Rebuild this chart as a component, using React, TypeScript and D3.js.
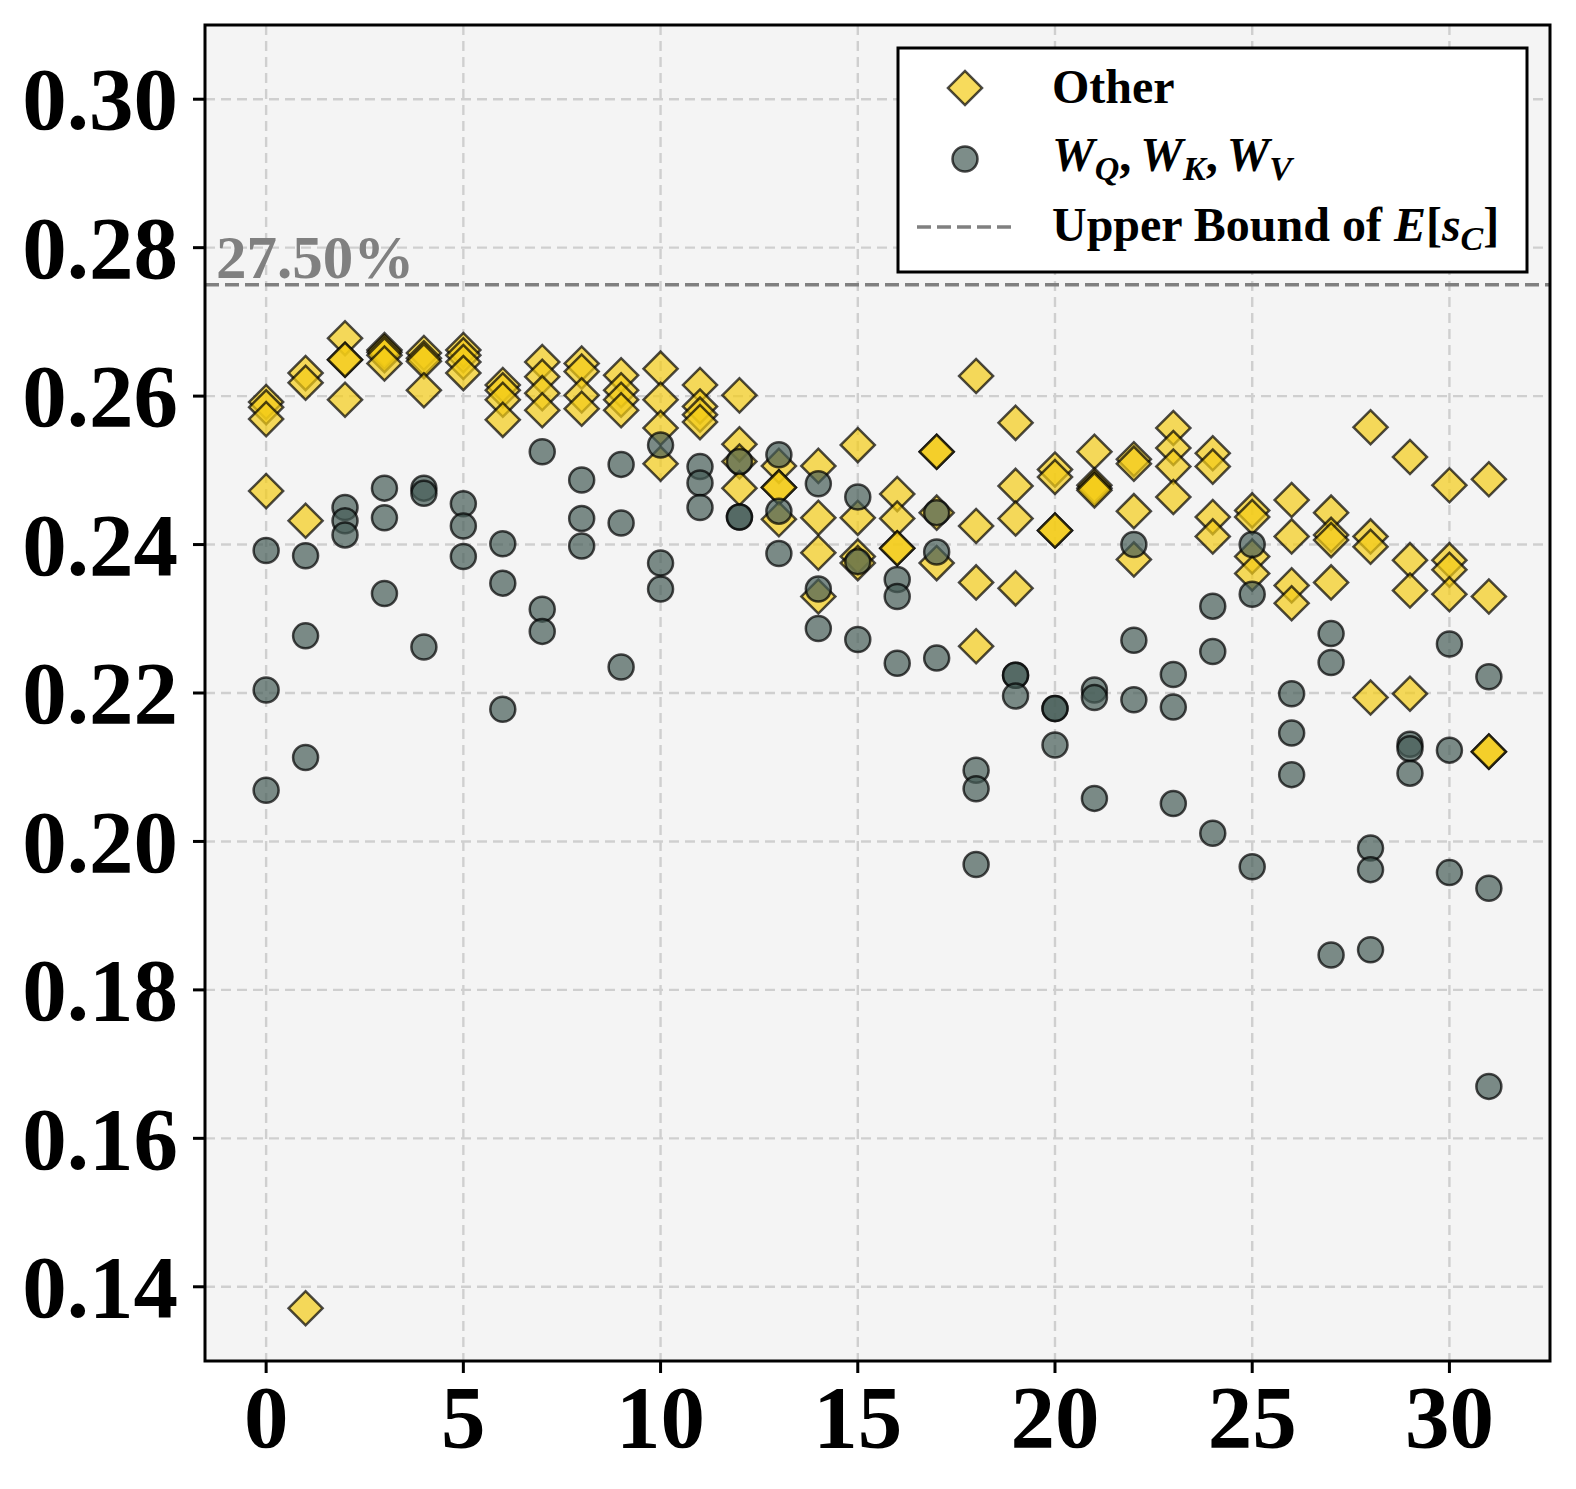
import React from 'react';
import * as d3 from 'd3';

// layer index on x
const layers = [0, 1, 2, 3, 4, 5, 6, 7, 8, 9, 10, 11, 12, 13, 14, 15, 16, 17, 18, 19, 20, 21, 22, 23, 24, 25, 26, 27, 28, 29, 30, 31];

// "Other" projections, four per layer
const otherValues = [
  [0.2592, 0.2585, 0.2569, 0.2472],
  [0.2631, 0.2618, 0.2432, 0.1371],
  [0.2678, 0.2649, 0.2649, 0.2595],
  [0.2662, 0.2659, 0.2655, 0.2644],
  [0.2658, 0.2651, 0.2647, 0.2608],
  [0.2662, 0.2655, 0.2646, 0.2631],
  [0.2615, 0.2608, 0.2595, 0.2568],
  [0.2646, 0.2626, 0.2604, 0.2581],
  [0.2644, 0.2633, 0.2601, 0.2583],
  [0.2628, 0.2608, 0.2595, 0.2581],
  [0.2637, 0.2595, 0.2557, 0.2509],
  [0.2615, 0.2586, 0.2575, 0.2565],
  [0.2601, 0.2535, 0.2512, 0.2476],
  [0.2506, 0.2477, 0.2477, 0.2434],
  [0.2506, 0.2436, 0.2389, 0.2330],
  [0.2534, 0.2436, 0.2384, 0.2375],
  [0.2468, 0.2435, 0.2395, 0.2395],
  [0.2525, 0.2525, 0.2443, 0.2375],
  [0.2627, 0.2425, 0.2349, 0.2263],
  [0.2564, 0.2479, 0.2435, 0.2341],
  [0.2501, 0.2491, 0.2419, 0.2419],
  [0.2525, 0.2480, 0.2476, 0.2473],
  [0.2515, 0.2509, 0.2445, 0.2380],
  [0.2557, 0.2530, 0.2505, 0.2464],
  [0.2523, 0.2505, 0.2437, 0.2411],
  [0.2446, 0.2437, 0.2384, 0.2361],
  [0.2460, 0.2411, 0.2345, 0.2321],
  [0.2443, 0.2413, 0.2406, 0.2349],
  [0.2558, 0.2411, 0.2397, 0.2194],
  [0.2518, 0.2379, 0.2338, 0.2199],
  [0.2480, 0.2379, 0.2366, 0.2333],
  [0.2488, 0.2330, 0.2121, 0.2121],
];

// W_Q, W_K, W_V, three per layer
const qkvValues = [
  [0.2392, 0.2204, 0.2069],
  [0.2385, 0.2277, 0.2113],
  [0.2450, 0.2432, 0.2413],
  [0.2476, 0.2436, 0.2334],
  [0.2476, 0.2469, 0.2262],
  [0.2455, 0.2425, 0.2384],
  [0.2401, 0.2348, 0.2178],
  [0.2525, 0.2313, 0.2283],
  [0.2487, 0.2435, 0.2398],
  [0.2508, 0.2429, 0.2235],
  [0.2534, 0.2375, 0.2340],
  [0.2505, 0.2483, 0.2450],
  [0.2512, 0.2437, 0.2437],
  [0.2521, 0.2445, 0.2388],
  [0.2482, 0.2340, 0.2287],
  [0.2464, 0.2377, 0.2272],
  [0.2353, 0.2330, 0.2240],
  [0.2443, 0.2390, 0.2247],
  [0.2096, 0.2071, 0.1969],
  [0.2224, 0.2224, 0.2196],
  [0.2179, 0.2179, 0.2130],
  [0.2204, 0.2194, 0.2058],
  [0.2400, 0.2271, 0.2191],
  [0.2225, 0.2181, 0.2051],
  [0.2317, 0.2256, 0.2011],
  [0.2400, 0.2333, 0.1966],
  [0.2199, 0.2146, 0.2090],
  [0.2280, 0.2241, 0.1847],
  [0.1991, 0.1962, 0.1854],
  [0.2131, 0.2125, 0.2092],
  [0.2266, 0.2123, 0.1958],
  [0.2222, 0.1937, 0.1670],
];

const xTicks = [0, 5, 10, 15, 20, 25, 30];
const yTicks = [0.14, 0.16, 0.18, 0.20, 0.22, 0.24, 0.26, 0.28, 0.30];
const upperBound = 0.275;

const FONT = '"Liberation Serif", "Times New Roman", serif';

export default function App() {
  const width = 1576;
  const height = 1489;
  const left = 205;
  const right = 1550;
  const top = 25;
  const bottom = 1361;

  const x = d3.scaleLinear().domain([-1.55, 32.55]).range([left, right]);
  const y = d3.scaleLinear().domain([0.13, 0.31]).range([bottom, top]);

  const diamond = d3.symbol().type(d3.symbolSquare).size(580)() || '';
  const circleR = 12.5;

  const otherFill = '#F3CC17';
  const qkvFill = '#465D57';

  const otherPts = otherValues.flatMap((vals, i) => vals.map(v => ({ layer: layers[i], v })));
  const qkvPts = qkvValues.flatMap((vals, i) => vals.map(v => ({ layer: layers[i], v })));

  const lx = 898;
  const ly = 48;
  const lw = 629;
  const lh = 224;

  return (
    <svg width={width} height={height} style={{ position: 'absolute', left: 0, top: 0, background: '#fff' }}>
      <rect x={left} y={top} width={right - left} height={bottom - top} fill="#f4f4f4" />

      {/* grid */}
      {xTicks.map(t => (
        <line key={`gx-${t}`} x1={x(t)} x2={x(t)} y1={top} y2={bottom}
          stroke="#cfcfcf" strokeWidth={2.4} strokeDasharray="10 6" />
      ))}
      {yTicks.map(t => (
        <line key={`gy-${t}`} x1={left} x2={right} y1={y(t)} y2={y(t)}
          stroke="#cfcfcf" strokeWidth={2.4} strokeDasharray="10 6" />
      ))}

      {/* upper bound */}
      <line x1={left} x2={right} y1={y(upperBound)} y2={y(upperBound)}
        stroke="#808080" strokeWidth={3.5} strokeDasharray="14 6" />
      <text x={216} y={y(upperBound) - 7} fontFamily={FONT} fontWeight="bold" fontSize={61} fill="#808080">
        27.50%
      </text>

      {/* Other */}
      {otherPts.map((p, i) => (
        <path key={`o-${i}`} d={diamond}
          transform={`translate(${x(p.layer)},${y(p.v)}) rotate(45)`}
          fill={otherFill} fillOpacity={0.7} stroke="#000" strokeOpacity={0.7} strokeWidth={2.5} />
      ))}

      {/* QKV */}
      {qkvPts.map((p, i) => (
        <circle key={`q-${i}`} cx={x(p.layer)} cy={y(p.v)} r={circleR}
          fill={qkvFill} fillOpacity={0.7} stroke="#000" strokeOpacity={0.7} strokeWidth={2.5} />
      ))}

      {/* frame */}
      <rect x={left} y={top} width={right - left} height={bottom - top} fill="none" stroke="#000" strokeWidth={3} />

      {/* y axis */}
      {yTicks.map(t => (
        <g key={`yt-${t}`}>
          <line x1={left - 12} x2={left} y1={y(t)} y2={y(t)} stroke="#000" strokeWidth={3} />
          <text x={178} y={y(t)} dy="0.34em" textAnchor="end" fontFamily={FONT}
            fontWeight="bold" fontSize={89} fill="#000">
            {d3.format('.2f')(t)}
          </text>
        </g>
      ))}

      {/* x axis */}
      {xTicks.map(t => (
        <g key={`xt-${t}`}>
          <line x1={x(t)} x2={x(t)} y1={bottom} y2={bottom + 12} stroke="#000" strokeWidth={3} />
          <text x={x(t)} y={1447} textAnchor="middle" fontFamily={FONT}
            fontWeight="bold" fontSize={89} fill="#000">
            {t}
          </text>
        </g>
      ))}

      {/* legend */}
      <rect x={lx} y={ly} width={lw} height={lh} fill="#fff" stroke="#000" strokeWidth={3} />
      <path d={diamond} transform={`translate(965,88) rotate(45)`}
        fill={otherFill} fillOpacity={0.7} stroke="#000" strokeOpacity={0.7} strokeWidth={2.5} />
      <circle cx={965} cy={159} r={circleR}
        fill={qkvFill} fillOpacity={0.7} stroke="#000" strokeOpacity={0.7} strokeWidth={2.5} />
      <line x1={917} x2={1015} y1={227} y2={227} stroke="#808080" strokeWidth={3.5} strokeDasharray="14 6" />

      <g fontFamily={FONT} fontWeight="bold" fontSize={48} fill="#000">
        <text x={1052} y={103}>Other</text>
        <text x={1052} y={171} fontStyle="italic">
          W<tspan fontSize={34} dy={9}>Q</tspan>
          <tspan dy={-9} fontStyle="normal">,</tspan><tspan dx={9}>W</tspan><tspan fontSize={34} dy={9}>K</tspan>
          <tspan dy={-9} fontStyle="normal">,</tspan><tspan dx={9}>W</tspan><tspan fontSize={34} dy={9}>V</tspan>
        </text>
        <text x={1052} y={241}>
          Upper Bound of <tspan fontStyle="italic">E</tspan>[<tspan fontStyle="italic">s</tspan>
          <tspan fontStyle="italic" fontSize={34} dy={9}>C</tspan><tspan dy={-9}>]</tspan>
        </text>
      </g>
    </svg>
  );
}
